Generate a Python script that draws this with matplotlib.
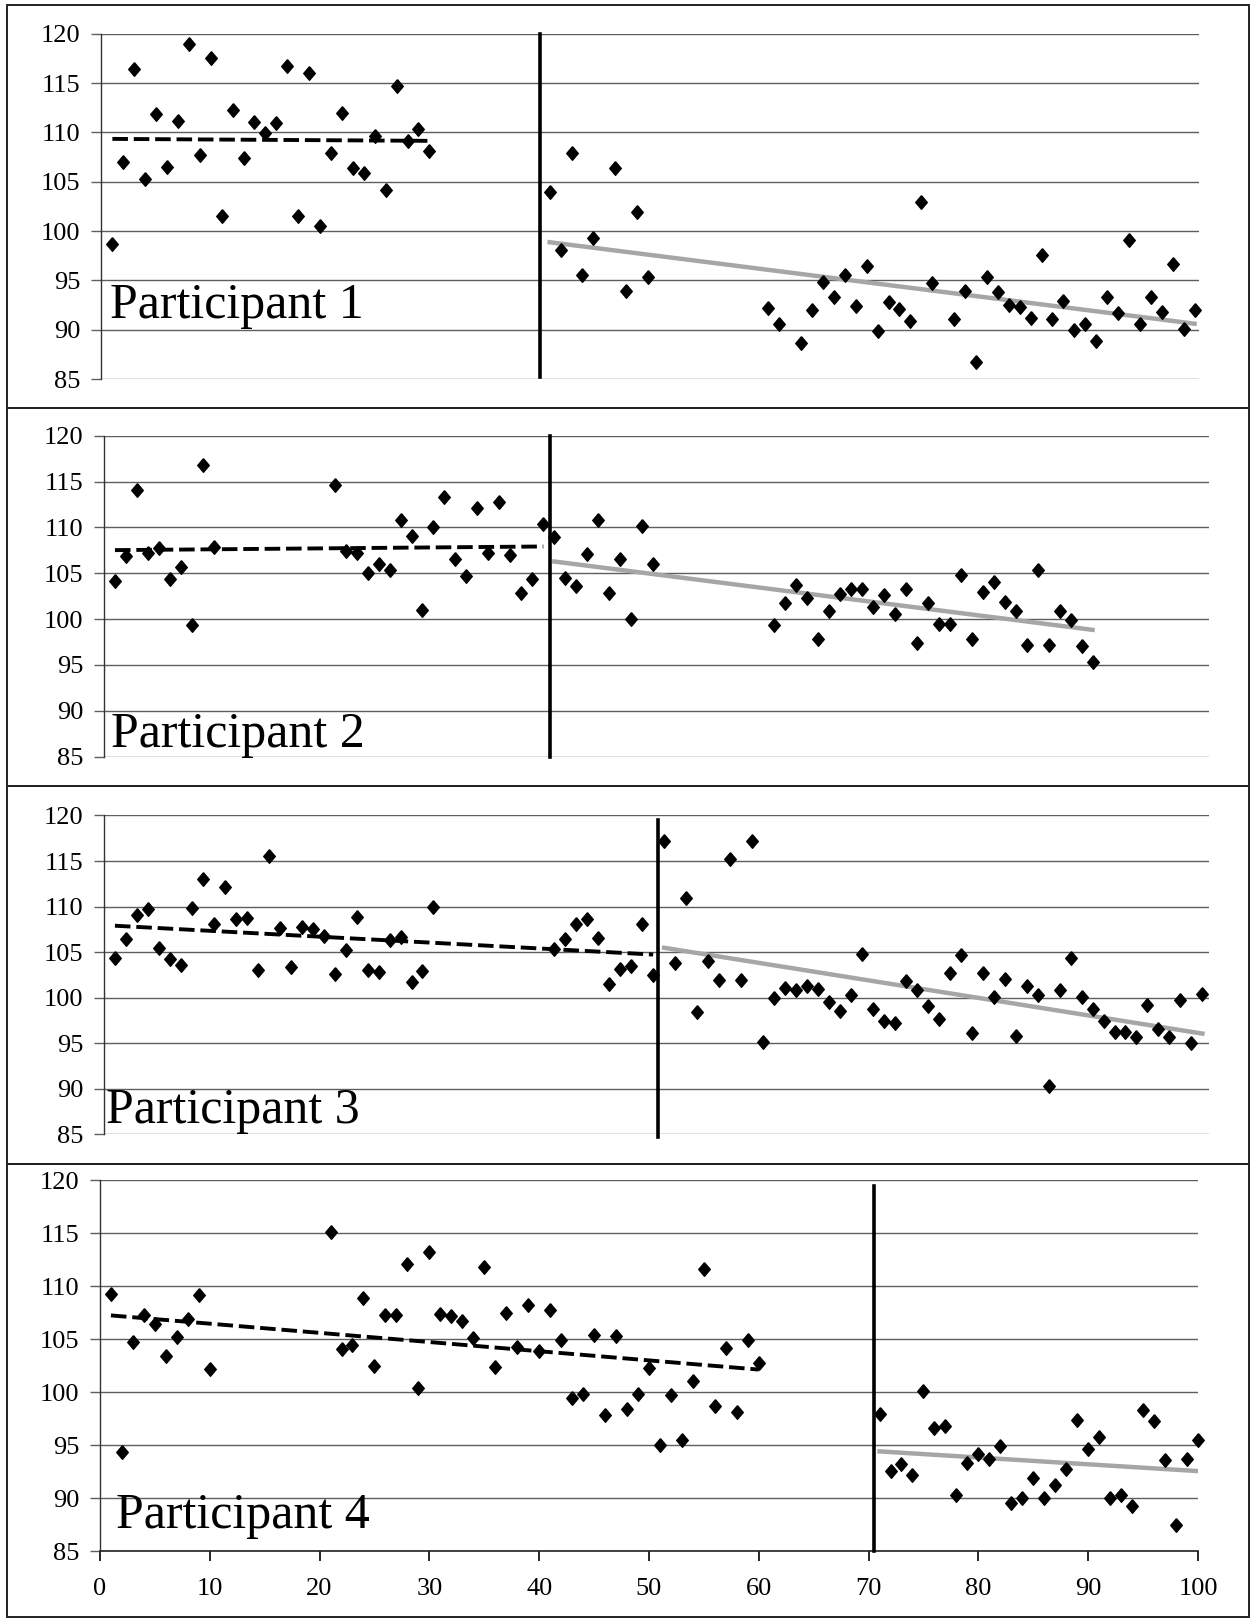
import numpy as np
import matplotlib.pyplot as plt
from matplotlib.patches import Rectangle

plt.rcParams["font.family"] = ["Liberation Serif", "DejaVu Serif"]

# ---- values (session number, score) ----
p1_base_x = list(range(1, 31))
p1_base_y = [98.7, 107.0, 116.4, 105.3, 111.9, 106.5, 111.2, 119.0, 107.7, 117.5,
             101.5, 112.3, 107.4, 111.0, 109.9, 110.9, 116.7, 101.5, 116.0, 100.5,
             107.9, 112.0, 106.4, 105.9, 109.6, 104.2, 114.7, 109.1, 110.3, 108.1]
p1_treat_x = [41, 42, 43, 44, 45, 47, 48, 49, 50, 61, 62] + list(range(64, 77)) + list(range(78, 101))
p1_treat_y = [104.0, 98.1, 107.9, 95.5, 99.3, 106.4, 93.9, 101.9, 95.3, 92.2, 90.6,
              88.6, 92.0, 94.8, 93.3, 95.5, 92.4, 96.5, 89.9, 92.8, 92.1, 90.9, 102.9, 94.7,
              91.1, 93.9, 86.75, 95.3, 93.8, 92.5, 92.3, 91.2, 97.6, 91.05, 92.9, 90.0,
              90.6, 88.85, 93.3, 91.7, 99.1, 90.6, 93.3, 91.75, 96.7, 90.1, 92.0]
p1_phase = 40.1

p2_base_x = list(range(1, 11)) + list(range(21, 41))
p2_base_y = [104.1, 106.9, 114.1, 107.2, 107.8, 104.4, 105.7, 99.35, 116.85, 107.9,
             114.6, 107.4, 107.2, 105.0, 106.0, 105.3, 110.8, 109.1, 101.0, 110.0,
             113.3, 106.6, 104.7, 112.1, 107.2, 112.8, 107.0, 102.8, 104.4, 110.35]
p2_treat_x = list(range(41, 51)) + list(range(61, 91))
p2_treat_y = [109.0, 104.5, 103.6, 107.1, 110.75, 102.8, 106.5, 100.05, 110.1, 106.0,
              99.4, 101.8, 103.7, 102.3, 97.8, 100.9, 102.7, 103.3, 103.3, 101.3,
              102.6, 100.5, 103.25, 97.4, 101.8, 99.45, 99.45, 104.85, 97.8, 103.0,
              104.0, 101.9, 100.9, 97.2, 105.3, 97.2, 100.9, 99.9, 97.1, 95.3]
p2_phase = 40.6

p3_base_x = list(range(1, 31)) + list(range(41, 51))
p3_base_y = [104.4, 106.5, 109.1, 109.75, 105.5, 104.25, 103.6, 109.9, 113.0, 108.1,
             112.1, 108.6, 108.8, 103.0, 115.55, 107.65, 103.4, 107.8, 107.5, 106.8,
             102.6, 105.2, 108.9, 103.0, 102.8, 106.3, 106.7, 101.75, 102.95, 110.0,
             105.3, 106.5, 108.1, 108.6, 106.6, 101.5, 103.1, 103.5, 108.1, 102.5]
p3_treat_x = list(range(51, 101))
p3_treat_y = [117.25, 103.8, 111.0, 98.45, 104.05, 102.0, 115.2, 102.0, 117.25, 95.1,
              100.0, 101.1, 100.8, 101.3, 100.95, 99.55, 98.6, 100.3, 104.8, 98.8,
              97.5, 97.2, 101.8, 100.8, 99.1, 97.7, 102.7, 104.7, 96.1, 102.7,
              100.1, 102.1, 95.75, 101.3, 100.3, 90.3, 100.8, 104.4, 100.1, 98.75,
              97.5, 96.25, 96.2, 95.7, 99.2, 96.55, 95.65, 99.8, 95.0, 100.4]
p3_phase = 50.4

p4_base_x = list(range(1, 11)) + list(range(21, 61))
p4_base_y = [109.3, 94.4, 104.7, 107.3, 106.4, 103.4, 105.2, 106.9, 109.2, 102.2,
             115.1, 104.1, 104.45, 108.9, 102.5, 107.3, 107.3, 112.05, 100.4, 113.25,
             107.4, 107.2, 106.75, 105.1, 111.8, 102.4, 107.5, 104.3, 108.2, 103.9,
             107.75, 104.9, 99.5, 99.8, 105.4, 97.85, 105.3, 98.4, 99.85, 102.3,
             95.0, 99.75, 95.55, 101.1, 111.65, 98.75, 104.2, 98.1, 104.95, 102.8]
p4_treat_x = list(range(71, 101))
p4_treat_y = [97.95, 92.6, 93.2, 92.2, 100.15, 96.65, 96.8, 90.3, 93.35, 94.2,
              93.75, 94.9, 89.6, 90.0, 91.9, 90.05, 91.25, 92.8, 97.4, 94.7,
              95.8, 90.05, 90.3, 89.3, 98.35, 97.3, 93.6, 87.5, 93.7, 95.5]
p4_phase = 70.5

labels = ["Participant 1", "Participant 2", "Participant 3", "Participant 4"]
y_ticks = list(range(85, 121, 5))
x_ticks = list(range(0, 101, 10))

panels = [
    (p1_base_x, p1_base_y, p1_treat_x, p1_treat_y, p1_phase),
    (p2_base_x, p2_base_y, p2_treat_x, p2_treat_y, p2_phase),
    (p3_base_x, p3_base_y, p3_treat_x, p3_treat_y, p3_phase),
    (p4_base_x, p4_base_y, p4_treat_x, p4_treat_y, p4_phase),
]

# layout (figure fractions) and visible x-extent of each plot area
axes_rects = [
    [0.0811, 0.7659, 0.8773, 0.2133],
    [0.0831, 0.5327, 0.8833, 0.1982],
    [0.0831, 0.2993, 0.8833, 0.1970],
    [0.0799, 0.0417, 0.8777, 0.2294],
]
x_right = [100.4, 100.6, 100.6, 100]
frame_edges = [0.9969, 0.748, 0.5145, 0.281, 0.0015]
label_pos = [(0.8, 91.2), (0.6, 86.0), (0.2, 86.3), (1.5, 87.2)]
vline_top = [1.0, 1.0, 0.985, 0.985]
vline_bot = [0.005, 0.0, -0.008, 0.0]

# slightly tall diamond, like the spreadsheet marker
diamond = [(0, 1), (0.85, 0), (0, -1), (-0.85, 0), (0, 1)]


def trend(ax, x, y, **style):
    x = np.asarray(x, float)
    slope, icpt = np.polyfit(x, np.asarray(y, float), 1)
    xs = np.array([x.min(), x.max()])
    ax.plot(xs, slope * xs + icpt, zorder=3, **style)


fig = plt.figure(figsize=(12.51, 16.19), dpi=100)

for i, (bx, by, tx, ty, phase) in enumerate(panels):
    ax = fig.add_axes(axes_rects[i])
    ax.set_xlim(0, x_right[i])
    ax.set_ylim(85, 120)
    ax.set_yticks(y_ticks)
    ax.grid(axis="y", color="#5e5e5e", lw=1.0, zorder=0)
    ax.tick_params(axis="y", length=7, width=1, color="#5e5e5e",
                   labelsize=19, pad=8)
    for s in ["top", "right", "bottom"]:
        ax.spines[s].set_visible(False)
    ax.spines["left"].set_color("#333333")
    ax.spines["left"].set_linewidth(1.0)

    if i == 3:
        ax.spines["bottom"].set_visible(True)
        ax.spines["bottom"].set_color("#222222")
        ax.spines["bottom"].set_linewidth(1.2)
        ax.set_xticks(x_ticks)
        ax.tick_params(axis="x", length=7, width=1.2, labelsize=19, pad=12)
    else:
        ax.set_xticks([])

    trend(ax, bx, by, color="black", lw=2.8, linestyle=(0, (4, 1.5)))
    trend(ax, tx, ty, color="#a6a6a6", lw=3.2)

    ax.plot(bx, by, marker=diamond, ls="none", color="black", ms=9.8,
            zorder=4, clip_on=False)
    ax.plot(tx, ty, marker=diamond, ls="none", color="black", ms=9.8,
            zorder=4, clip_on=False)

    ax.axvline(phase, ymin=vline_bot[i], ymax=vline_top[i], color="black",
               lw=2.6, zorder=5, clip_on=False)

    ax.text(label_pos[i][0], label_pos[i][1], labels[i], fontsize=36,
            ha="left", va="baseline", zorder=6)

# panel frames
for top, bot in zip(frame_edges[:-1], frame_edges[1:]):
    fig.add_artist(Rectangle((0.0056, bot), 0.993, top - bot, fill=False,
                             edgecolor="#222222", lw=1.4,
                             transform=fig.transFigure))

fig.savefig("out.png", dpi=100, facecolor="white")
